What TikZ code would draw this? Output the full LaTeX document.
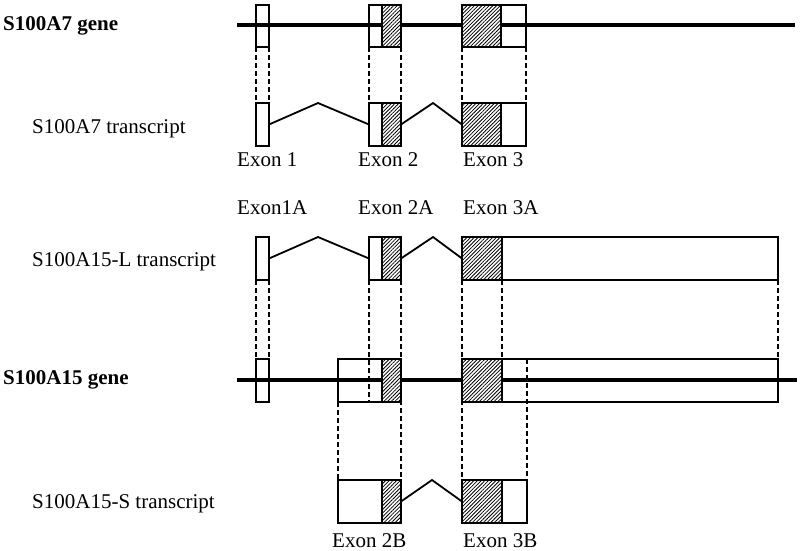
\documentclass[tikz,border=0pt]{standalone}
\usepackage{fontspec}
\setmainfont{Liberation Serif}
\usetikzlibrary{patterns.meta}

\tikzset{
  gene/.style={line width=3.5pt},
  genebox/.style={draw, line width=1.1pt},
  tbox/.style={draw, line width=2pt},
  hatch/.style={pattern={Lines[angle=45, distance=2.6pt, line width=0.8pt]}, preaction={fill=white}},
  guide/.style={line width=1.1pt, dash pattern=on 5pt off 3pt},
  intron/.style={line width=1.8pt},
  lbl/.style={anchor=base west, inner sep=0pt}
}

\begin{document}
\begin{tikzpicture}[x=1pt, y=-1pt, font=\fontsize{21}{25}\selectfont]
\useasboundingbox (0,0) rectangle (800,550);

% S100A7 gene
\draw[gene] (237,25) -- (795,25);
\fill[hatch] (382,5) rectangle (401,47);
\fill[hatch] (462,5) rectangle (501,47);
\draw[genebox] (256,5) rectangle (269,47);
\draw[genebox] (369,5) rectangle (401,47);
\draw[genebox] (382,5) -- (382,47);
\draw[genebox] (462,5) rectangle (526,47);
\draw[genebox] (501,5) -- (501,47);

% S100A7 transcript
\draw[tbox] (256,103) rectangle (269,146);
\draw[tbox, hatch] (382,103) rectangle (401,146);
\draw[tbox] (369,103) rectangle (401,146);
\draw[tbox, hatch] (462,103) rectangle (501,146);
\draw[tbox] (462,103) rectangle (526,146);
\draw[intron] (269,124.5) -- (318,103) -- (369,124.5);
\draw[intron] (401,124.5) -- (433,103) -- (462,124.5);

\foreach \x in {256,269,369,401,462,526}
  \draw[guide] (\x,47) -- (\x,103);

% S100A15-L transcript
\draw[tbox] (256,237) rectangle (269,280);
\draw[tbox, hatch] (382,237) rectangle (401,280);
\draw[tbox] (369,237) rectangle (401,280);
\draw[tbox, hatch] (462,237) rectangle (502,280);
\draw[tbox] (462,237) rectangle (778,280);
\draw[intron] (269,258.5) -- (318,237) -- (369,258.5);
\draw[intron] (401,258.5) -- (433,237) -- (462,258.5);

% S100A15 gene
\draw[gene] (237,380) -- (797,380);
\fill[hatch] (382,359) rectangle (401,402);
\fill[hatch] (462,359) rectangle (502,402);
\draw[genebox] (256,359) rectangle (269,402);
\draw[genebox] (338,359) rectangle (401,402);
\draw[genebox] (382,359) -- (382,402);
\draw[genebox] (462,359) rectangle (778,402);
\draw[genebox] (502,359) -- (502,402);

% S100A15-S transcript
\draw[tbox, hatch] (382,480) rectangle (401,523);
\draw[tbox] (338,480) rectangle (401,523);
\draw[tbox, hatch] (462,480) rectangle (502,523);
\draw[tbox] (462,480) rectangle (527,523);
\draw[intron] (401,501.5) -- (432,480) -- (462,501.5);

\foreach \x in {256,269,502,778}
  \draw[guide] (\x,280) -- (\x,359);
\draw[guide] (369,280) -- (369,402);
\foreach \x in {401,462}
  \draw[guide] (\x,280) -- (\x,480);
\draw[guide] (338,402) -- (338,480);
\draw[guide] (527,359) -- (527,480);

% labels
\node[lbl, font=\fontsize{21}{25}\selectfont\bfseries] (g7) at (3,30) {S100A7 gene};
\node[lbl] (t7) at (32,133) {S100A7 transcript};
\node[lbl] (tl) at (32,266) {S100A15-L transcript};
\node[lbl, font=\fontsize{21}{25}\selectfont\bfseries] (g15) at (3,384) {S100A15 gene};
\node[lbl] (ts) at (32,508) {S100A15-S transcript};

\node[lbl] (e1) at (237,166) {Exon 1};
\node[lbl] (e2) at (358,166) {Exon 2};
\node[lbl] (e3) at (463,166) {Exon 3};
\node[lbl] (e1a) at (237,214) {Exon1A};
\node[lbl] (e2a) at (358,214) {Exon 2A};
\node[lbl] (e3a) at (463,214) {Exon 3A};
\node[lbl] (e2b) at (332,547) {Exon 2B};
\node[lbl] (e3b) at (463,547) {Exon 3B};
\end{tikzpicture}
\end{document}
